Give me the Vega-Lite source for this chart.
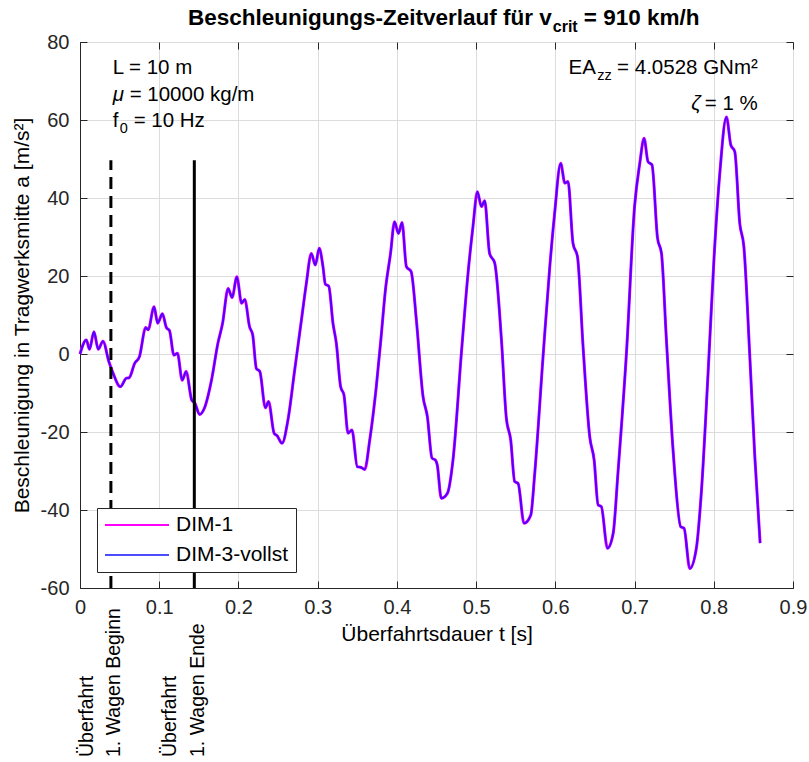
{
  "$schema": "https://vega.github.io/schema/vega-lite/v6.json",
  "width": 713,
  "height": 546,
  "autosize": {"type": "none"},
  "padding": {"left": 80, "top": 42, "right": 16, "bottom": 174},
  "background": "white",
  "config": {
    "font": "Liberation Sans",
    "view": {"stroke": "#262626", "strokeWidth": 1},
    "axis": {"labelFontSize": 20, "labelColor": "#262626", "labelFlush": false, "titleFontSize": 21, "titleFontWeight": "normal", "titleColor": "#000000", "tickColor": "#262626", "domainColor": "#262626", "gridColor": "#dcdcdc", "gridWidth": 1, "tickSize": -7}
  },
  "datasets": {
    "curve": [
      {"t": 0, "a": 0}, {"t": 0.008, "a": 3.6}, {"t": 0.012, "a": 1.2}, {"t": 0.0176, "a": 5.7}, {"t": 0.023, "a": 1.2}, {"t": 0.029, "a": 3.3},
      {"t": 0.0365, "a": -2}, {"t": 0.041, "a": -4.5}, {"t": 0.051, "a": -8.4}, {"t": 0.0585, "a": -6.2}, {"t": 0.062, "a": -6.1}, {"t": 0.069, "a": -2.4},
      {"t": 0.075, "a": -0.7}, {"t": 0.083, "a": 6.8}, {"t": 0.086, "a": 6.2}, {"t": 0.0935, "a": 12.1}, {"t": 0.098, "a": 7.9}, {"t": 0.104, "a": 10.3},
      {"t": 0.109, "a": 6.8}, {"t": 0.113, "a": 6}, {"t": 0.1185, "a": -0.3}, {"t": 0.123, "a": 0.2}, {"t": 0.129, "a": -6.7}, {"t": 0.134, "a": -4.5},
      {"t": 0.141, "a": -11.8}, {"t": 0.145, "a": -12.6}, {"t": 0.151, "a": -15.5}, {"t": 0.157, "a": -13.9}, {"t": 0.166, "a": -6.7}, {"t": 0.174, "a": 2.7},
      {"t": 0.18, "a": 7.9}, {"t": 0.187, "a": 16.8}, {"t": 0.192, "a": 14.5}, {"t": 0.198, "a": 19.8}, {"t": 0.204, "a": 13}, {"t": 0.208, "a": 14},
      {"t": 0.214, "a": 7}, {"t": 0.218, "a": 4.9}, {"t": 0.2226, "a": -3.7}, {"t": 0.227, "a": -4.5}, {"t": 0.234, "a": -13.8}, {"t": 0.238, "a": -12.2},
      {"t": 0.245, "a": -20.3}, {"t": 0.249, "a": -21}, {"t": 0.255, "a": -22.9}, {"t": 0.2625, "a": -16.9}, {"t": 0.271, "a": -4.1}, {"t": 0.2795, "a": 8.7},
      {"t": 0.2857, "a": 18.1}, {"t": 0.292, "a": 25.8}, {"t": 0.297, "a": 22.8}, {"t": 0.302, "a": 27.1}, {"t": 0.3067, "a": 22.4}, {"t": 0.3097, "a": 17.9},
      {"t": 0.314, "a": 17.4}, {"t": 0.3193, "a": 7.9}, {"t": 0.3236, "a": 2.7}, {"t": 0.329, "a": -8.4}, {"t": 0.3332, "a": -10.5}, {"t": 0.3383, "a": -20.3},
      {"t": 0.3433, "a": -19.5}, {"t": 0.35, "a": -28.9}, {"t": 0.355, "a": -29.1}, {"t": 0.3594, "a": -29.6}, {"t": 0.3657, "a": -22.1}, {"t": 0.374, "a": -8.4},
      {"t": 0.3805, "a": 5.3}, {"t": 0.3855, "a": 16.4}, {"t": 0.392, "a": 25.8}, {"t": 0.397, "a": 33.9}, {"t": 0.402, "a": 30.9}, {"t": 0.4065, "a": 33.7},
      {"t": 0.412, "a": 22.4}, {"t": 0.418, "a": 21.1}, {"t": 0.4246, "a": 8.7}, {"t": 0.433, "a": -10.9}, {"t": 0.4385, "a": -16.1}, {"t": 0.4443, "a": -26.7},
      {"t": 0.4486, "a": -27.2}, {"t": 0.451, "a": -28.5}, {"t": 0.456, "a": -37}, {"t": 0.4638, "a": -35.7}, {"t": 0.4708, "a": -27.2}, {"t": 0.4814, "a": 0.2},
      {"t": 0.4898, "a": 20.7}, {"t": 0.496, "a": 32.6}, {"t": 0.5016, "a": 41.6}, {"t": 0.5067, "a": 37.8}, {"t": 0.5108, "a": 39.3}, {"t": 0.517, "a": 25.8},
      {"t": 0.5235, "a": 23.3}, {"t": 0.532, "a": 3.6}, {"t": 0.538, "a": -16.1}, {"t": 0.5437, "a": -22.1}, {"t": 0.5487, "a": -32.7}, {"t": 0.553, "a": -33.2},
      {"t": 0.5605, "a": -43.4}, {"t": 0.569, "a": -41.3}, {"t": 0.574, "a": -30.6}, {"t": 0.5845, "a": -0.7}, {"t": 0.593, "a": 22.4}, {"t": 0.599, "a": 35.8},
      {"t": 0.6068, "a": 48.9}, {"t": 0.612, "a": 43.8}, {"t": 0.616, "a": 44.2}, {"t": 0.6223, "a": 28.4}, {"t": 0.628, "a": 24.9}, {"t": 0.635, "a": 1.9},
      {"t": 0.6434, "a": -21.2}, {"t": 0.649, "a": -27.2}, {"t": 0.654, "a": -38.7}, {"t": 0.658, "a": -39.1}, {"t": 0.6658, "a": -49.8}, {"t": 0.673, "a": -46},
      {"t": 0.679, "a": -30.6}, {"t": 0.69, "a": 1}, {"t": 0.7, "a": 37.8}, {"t": 0.7066, "a": 48.9}, {"t": 0.712, "a": 55.3}, {"t": 0.717, "a": 49.3},
      {"t": 0.722, "a": 48.5}, {"t": 0.729, "a": 29.7}, {"t": 0.734, "a": 25.8}, {"t": 0.74, "a": 4.4}, {"t": 0.7486, "a": -24.6}, {"t": 0.7583, "a": -44.3},
      {"t": 0.7625, "a": -44.7}, {"t": 0.7697, "a": -55}, {"t": 0.778, "a": -49.8}, {"t": 0.7845, "a": -34.9}, {"t": 0.7928, "a": -4.9}, {"t": 0.8004, "a": 24.9},
      {"t": 0.8076, "a": 46.3}, {"t": 0.816, "a": 60.8}, {"t": 0.8215, "a": 53.6}, {"t": 0.8265, "a": 51.9}, {"t": 0.8328, "a": 33.5}, {"t": 0.838, "a": 27.5},
      {"t": 0.8455, "a": -0.7}, {"t": 0.8518, "a": -26.3}, {"t": 0.8585, "a": -48.5}
    ],
    "events": [
      {"t": 0.039, "event": "Beginn", "label": "Überfahrt\n1. Wagen Beginn"},
      {"t": 0.1443, "event": "Ende", "label": "Überfahrt\n1. Wagen Ende"}
    ]
  },
  "layer": [
    {
      "data": {"name": "curve"},
      "mark": {"type": "line", "strokeWidth": 3, "interpolate": "monotone"},
      "encoding": {
        "x": {"field": "t", "type": "quantitative", "scale": {"domain": [0, 0.9], "nice": false, "zero": false},
              "axis": {"orient": "bottom", "values": [0, 0.1, 0.2, 0.3, 0.4, 0.5, 0.6, 0.7, 0.8, 0.9], "labelExpr": "'' + datum.value", "labelPadding": 16, "title": "Überfahrtsdauer t [s]", "titlePadding": 6, "grid": true}},
        "y": {"field": "a", "type": "quantitative", "scale": {"domain": [-60, 80], "nice": false, "zero": false},
              "axis": {"orient": "left", "values": [-60, -40, -20, 0, 20, 40, 60, 80], "labelExpr": "'' + datum.value", "labelPadding": 18, "title": "Beschleunigung in Tragwerksmitte a [m/s²]", "titlePadding": 8, "grid": true}},
        "color": {"datum": "DIM-1", "type": "nominal",
                  "scale": {"domain": ["DIM-1", "DIM-3-vollst"], "range": ["#FF00FF", "rgba(0,0,255,0.7)"]},
                  "legend": {"title": null, "orient": "none", "legendX": 17, "legendY": 466, "strokeColor": "#262626", "fillColor": "white", "padding": 7, "labelFontSize": 21, "labelColor": "#000000", "symbolType": "stroke", "symbolSize": 4096, "symbolStrokeWidth": 2, "clipHeight": 20, "rowPadding": 9, "labelOffset": 6}}
      }
    },
    {
      "data": {"name": "curve"},
      "mark": {"type": "line", "strokeWidth": 2, "interpolate": "monotone"},
      "encoding": {
        "x": {"field": "t", "type": "quantitative", "scale": {"domain": [0, 0.9], "nice": false, "zero": false},
              "axis": {"orient": "top", "values": [0, 0.1, 0.2, 0.3, 0.4, 0.5, 0.6, 0.7, 0.8, 0.9], "labels": false, "grid": false, "domain": false, "title": null}},
        "y": {"field": "a", "type": "quantitative", "scale": {"domain": [-60, 80], "nice": false, "zero": false},
              "axis": {"orient": "right", "values": [-60, -40, -20, 0, 20, 40, 60, 80], "labels": false, "grid": false, "domain": false, "title": null}},
        "color": {"datum": "DIM-3-vollst", "type": "nominal",
                  "scale": {"domain": ["DIM-1", "DIM-3-vollst"], "range": ["#FF00FF", "rgba(0,0,255,0.7)"]},
                  "legend": {"title": null, "orient": "none", "legendX": 17, "legendY": 466, "strokeColor": "#262626", "fillColor": "white", "padding": 7, "labelFontSize": 21, "labelColor": "#000000", "symbolType": "stroke", "symbolSize": 4096, "symbolStrokeWidth": 2, "clipHeight": 20, "rowPadding": 9, "labelOffset": 6}}
      }
    },
    {
      "data": {"name": "events"},
      "mark": {"type": "rule", "strokeWidth": 3, "color": "#000000"},
      "encoding": {
        "x": {"field": "t", "type": "quantitative", "axis": null, "scale": {"domain": [0, 0.9], "nice": false, "zero": false}},
        "y": {"datum": -60, "type": "quantitative", "axis": null, "scale": {"domain": [-60, 80], "nice": false, "zero": false}},
        "y2": {"datum": 49.7},
        "strokeDash": {"field": "event", "type": "nominal", "scale": {"domain": ["Beginn", "Ende"], "range": [[12, 7], [1, 0]]}, "legend": null}
      }
    },
    {
      "data": {"name": "events"},
      "mark": {"type": "text", "angle": 270, "align": "left", "baseline": "alphabetic", "fontSize": 19.5, "lineHeight": 27.5, "lineBreak": "\n", "dx": -169, "dy": -18, "color": "#000000"},
      "encoding": {
        "x": {"field": "t", "type": "quantitative", "axis": null, "scale": {"domain": [0, 0.9], "nice": false, "zero": false}},
        "y": {"datum": -60, "type": "quantitative", "axis": null, "scale": {"domain": [-60, 80], "nice": false, "zero": false}},
        "text": {"field": "label", "type": "nominal"}
      }
    },
    {
      "data": {"values": [{}]},
      "mark": {"type": "text", "align": "left", "baseline": "middle", "fontSize": 20.5, "color": "#000000"},
      "encoding": {
        "x": {"datum": 0.0412, "type": "quantitative", "axis": null, "scale": {"domain": [0, 0.9], "nice": false, "zero": false}},
        "y": {"datum": 73.3, "type": "quantitative", "axis": null, "scale": {"domain": [-60, 80], "nice": false, "zero": false}},
        "text": {"value": "L = 10 m"}
      }
    },
    {
      "data": {"values": [{}]},
      "mark": {"type": "text", "align": "left", "baseline": "middle", "fontSize": 20.5, "fontStyle": "italic", "color": "#000000"},
      "encoding": {
        "x": {"datum": 0.0412, "type": "quantitative", "axis": null, "scale": {"domain": [0, 0.9], "nice": false, "zero": false}},
        "y": {"datum": 66.4, "type": "quantitative", "axis": null, "scale": {"domain": [-60, 80], "nice": false, "zero": false}},
        "text": {"value": "μ"}
      }
    },
    {
      "data": {"values": [{}]},
      "mark": {"type": "text", "align": "left", "baseline": "middle", "fontSize": 20.5, "dx": 17, "color": "#000000"},
      "encoding": {
        "x": {"datum": 0.0412, "type": "quantitative", "axis": null, "scale": {"domain": [0, 0.9], "nice": false, "zero": false}},
        "y": {"datum": 66.4, "type": "quantitative", "axis": null, "scale": {"domain": [-60, 80], "nice": false, "zero": false}},
        "text": {"value": "= 10000 kg/m"}
      }
    },
    {
      "data": {"values": [{}]},
      "mark": {"type": "text", "align": "left", "baseline": "middle", "fontSize": 20.5, "color": "#000000"},
      "encoding": {
        "x": {"datum": 0.0412, "type": "quantitative", "axis": null, "scale": {"domain": [0, 0.9], "nice": false, "zero": false}},
        "y": {"datum": 59.7, "type": "quantitative", "axis": null, "scale": {"domain": [-60, 80], "nice": false, "zero": false}},
        "text": {"value": "f"}
      }
    },
    {
      "data": {"values": [{}]},
      "mark": {"type": "text", "align": "left", "baseline": "middle", "fontSize": 14.5, "dx": 7, "dy": 8, "color": "#000000"},
      "encoding": {
        "x": {"datum": 0.0412, "type": "quantitative", "axis": null, "scale": {"domain": [0, 0.9], "nice": false, "zero": false}},
        "y": {"datum": 59.7, "type": "quantitative", "axis": null, "scale": {"domain": [-60, 80], "nice": false, "zero": false}},
        "text": {"value": "0"}
      }
    },
    {
      "data": {"values": [{}]},
      "mark": {"type": "text", "align": "left", "baseline": "middle", "fontSize": 20.5, "dx": 21, "color": "#000000"},
      "encoding": {
        "x": {"datum": 0.0412, "type": "quantitative", "axis": null, "scale": {"domain": [0, 0.9], "nice": false, "zero": false}},
        "y": {"datum": 59.7, "type": "quantitative", "axis": null, "scale": {"domain": [-60, 80], "nice": false, "zero": false}},
        "text": {"value": "= 10 Hz"}
      }
    },
    {
      "data": {"values": [{}]},
      "mark": {"type": "text", "align": "right", "baseline": "middle", "fontSize": 20.5, "color": "#000000"},
      "encoding": {
        "x": {"datum": 0.8556, "type": "quantitative", "axis": null, "scale": {"domain": [0, 0.9], "nice": false, "zero": false}},
        "y": {"datum": 73.3, "type": "quantitative", "axis": null, "scale": {"domain": [-60, 80], "nice": false, "zero": false}},
        "text": {"value": "= 4.0528 GNm²"}
      }
    },
    {
      "data": {"values": [{}]},
      "mark": {"type": "text", "align": "right", "baseline": "middle", "fontSize": 14.5, "dx": -146, "dy": 8, "color": "#000000"},
      "encoding": {
        "x": {"datum": 0.8556, "type": "quantitative", "axis": null, "scale": {"domain": [0, 0.9], "nice": false, "zero": false}},
        "y": {"datum": 73.3, "type": "quantitative", "axis": null, "scale": {"domain": [-60, 80], "nice": false, "zero": false}},
        "text": {"value": "zz"}
      }
    },
    {
      "data": {"values": [{}]},
      "mark": {"type": "text", "align": "right", "baseline": "middle", "fontSize": 20.5, "dx": -162, "color": "#000000"},
      "encoding": {
        "x": {"datum": 0.8556, "type": "quantitative", "axis": null, "scale": {"domain": [0, 0.9], "nice": false, "zero": false}},
        "y": {"datum": 73.3, "type": "quantitative", "axis": null, "scale": {"domain": [-60, 80], "nice": false, "zero": false}},
        "text": {"value": "EA"}
      }
    },
    {
      "data": {"values": [{}]},
      "mark": {"type": "text", "align": "right", "baseline": "middle", "fontSize": 20.5, "color": "#000000"},
      "encoding": {
        "x": {"datum": 0.8556, "type": "quantitative", "axis": null, "scale": {"domain": [0, 0.9], "nice": false, "zero": false}},
        "y": {"datum": 64.1, "type": "quantitative", "axis": null, "scale": {"domain": [-60, 80], "nice": false, "zero": false}},
        "text": {"value": "= 1 %"}
      }
    },
    {
      "data": {"values": [{}]},
      "mark": {"type": "text", "align": "right", "baseline": "middle", "fontSize": 20.5, "fontStyle": "italic", "dx": -57, "color": "#000000"},
      "encoding": {
        "x": {"datum": 0.8556, "type": "quantitative", "axis": null, "scale": {"domain": [0, 0.9], "nice": false, "zero": false}},
        "y": {"datum": 64.1, "type": "quantitative", "axis": null, "scale": {"domain": [-60, 80], "nice": false, "zero": false}},
        "text": {"value": "ζ"}
      }
    },
    {
      "data": {"values": [{}]},
      "mark": {"type": "text", "align": "right", "baseline": "middle", "fontSize": 22.5, "fontWeight": "bold", "color": "#000000"},
      "encoding": {
        "x": {"datum": 0.5955, "type": "quantitative", "axis": null, "scale": {"domain": [0, 0.9], "nice": false, "zero": false}},
        "y": {"datum": 86.2, "type": "quantitative", "axis": null, "scale": {"domain": [-60, 80], "nice": false, "zero": false}},
        "text": {"value": "Beschleunigungs-Zeitverlauf für v"}
      }
    },
    {
      "data": {"values": [{}]},
      "mark": {"type": "text", "align": "left", "baseline": "middle", "fontSize": 16, "fontWeight": "bold", "dx": 1, "dy": 9, "color": "#000000"},
      "encoding": {
        "x": {"datum": 0.5955, "type": "quantitative", "axis": null, "scale": {"domain": [0, 0.9], "nice": false, "zero": false}},
        "y": {"datum": 86.2, "type": "quantitative", "axis": null, "scale": {"domain": [-60, 80], "nice": false, "zero": false}},
        "text": {"value": "crit"}
      }
    },
    {
      "data": {"values": [{}]},
      "mark": {"type": "text", "align": "left", "baseline": "middle", "fontSize": 22.5, "fontWeight": "bold", "dx": 32, "color": "#000000"},
      "encoding": {
        "x": {"datum": 0.5955, "type": "quantitative", "axis": null, "scale": {"domain": [0, 0.9], "nice": false, "zero": false}},
        "y": {"datum": 86.2, "type": "quantitative", "axis": null, "scale": {"domain": [-60, 80], "nice": false, "zero": false}},
        "text": {"value": "= 910 km/h"}
      }
    }
  ],
  "resolve": {"axis": {"x": "independent", "y": "independent"}}
}
